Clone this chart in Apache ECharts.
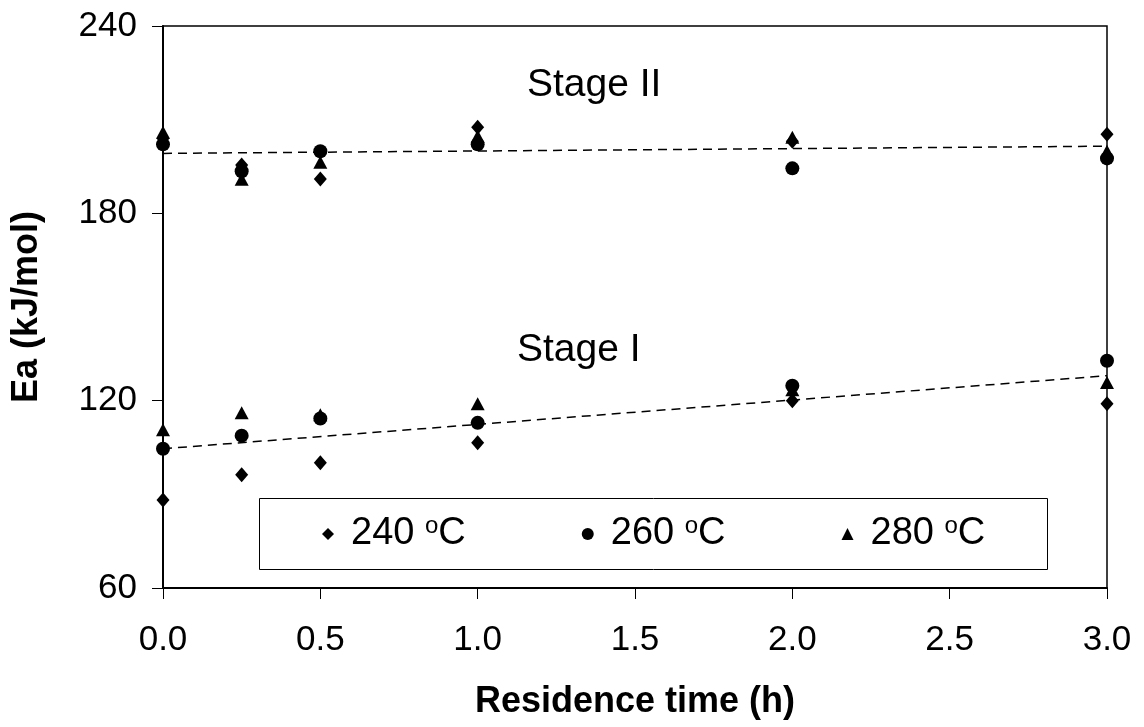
<!DOCTYPE html>
<html>
<head>
<meta charset="utf-8">
<script src="https://cdn.jsdelivr.net/npm/echarts@6/dist/echarts.min.js"></script>
<style>
html,body{margin:0;padding:0;background:#fff;}
#chart{width:1144px;height:727px;}
</style>
</head>
<body>
<div id="chart"></div>
<script>
// ---- data ----
const timesH = [0, 0.25, 0.5, 1, 2, 3];
const tempLabels = ['240', '260', '280'];
const stageI_240 = [88.2, 96.3, 100.1, 106.5, 120.0, 119.0];
const stageI_260 = [104.6, 108.8, 114.3, 112.9, 124.8, 132.8];
const stageI_280 = [110.7, 116.1, 115.5, 119.0, 123.5, 125.8];
const stageII_240 = [204.0, 195.5, 191.0, 207.6, 203.1, 205.3];
const stageII_260 = [202.1, 193.5, 199.9, 202.1, 194.4, 197.6];
const stageII_280 = [206.0, 190.9, 196.4, 204.7, 204.4, 199.9];
const trendX = [0, 3];
const trendStageI = [104.6, 128.0];
const trendStageII = [199.2, 201.5];
const yTicks = [60, 120, 180, 240];
const xTicks = [0, 0.5, 1, 1.5, 2, 2.5, 3];

const font = 'Liberation Sans, Arial, sans-serif';
const symbols = ['diamond', 'circle', 'triangle'];
const symbolSizes = [[13, 15], 14, [14, 13]];
const stageIData = [stageI_240, stageI_260, stageI_280];
const stageIIData = [stageII_240, stageII_260, stageII_280];

const pairs = (xs, ys) => xs.map((x, i) => [x, ys[i]]);

const series = [];
series.push({
  type: 'line', name: 'trendI', data: pairs(trendX, trendStageI),
  showSymbol: false, symbol: 'none', silent: true,
  lineStyle: {color: '#000', width: 1.5, type: [9, 6]}, z: 1
});
series.push({
  type: 'line', name: 'trendII', data: pairs(trendX, trendStageII),
  showSymbol: false, symbol: 'none', silent: true,
  lineStyle: {color: '#000', width: 1.5, type: [9, 6]}, z: 1
});
tempLabels.forEach((t, k) => {
  series.push({
    type: 'scatter',
    name: t,
    symbol: symbols[k],
    symbolSize: symbolSizes[k],
    itemStyle: {color: '#000', opacity: 1},
    data: pairs(timesH, stageIData[k]).concat(pairs(timesH, stageIIData[k])),
    z: 3
  });
});

const chart = echarts.init(document.getElementById('chart'), null, {renderer: 'canvas'});
chart.setOption({
  animation: false,
  backgroundColor: '#fff',
  grid: {left: 163, right: 37, top: 26, bottom: 139, show: true, borderColor: '#000', borderWidth: 1.5, backgroundColor: 'transparent'},
  xAxis: {
    type: 'value', min: xTicks[0], max: xTicks[xTicks.length - 1], interval: 0.5,
    axisLine: {lineStyle: {color: '#000', width: 2}},
    axisTick: {show: true, inside: false, length: 11, lineStyle: {color: '#000', width: 1}},
    splitLine: {show: false},
    axisLabel: {color: '#000', fontSize: 35, fontFamily: font, margin: 35, formatter: v => v.toFixed(1)},
    name: 'Residence time (h)', nameLocation: 'middle', nameGap: 96,
    nameTextStyle: {color: '#000', fontSize: 36, fontWeight: 'bold', fontFamily: font}
  },
  yAxis: {
    type: 'value', min: yTicks[0], max: yTicks[yTicks.length - 1], interval: 60,
    axisLine: {lineStyle: {color: '#000', width: 2}},
    axisTick: {show: true, inside: false, length: 11, lineStyle: {color: '#000', width: 1}},
    splitLine: {show: false},
    axisLabel: {color: '#000', fontSize: 35, fontFamily: font, margin: 26},
    name: 'Ea (kJ/mol)', nameLocation: 'middle', nameGap: 118, nameRotate: 90,
    nameTextStyle: {color: '#000', fontSize: 36, fontWeight: 'bold', fontFamily: font}
  },
  legend: {
    z: 20,
    data: tempLabels.map((t, k) => ({name: t, icon: symbols[k]})),
    left: 322, top: 514, itemWidth: 12, itemHeight: 12, itemGap: 116, padding: 0,
    textStyle: {
      color: '#000', fontSize: 38, fontFamily: font,
      rich: {
        g: {width: 12, fontSize: 38, lineHeight: 40},
        t: {fontSize: 38, fontFamily: font, color: '#000', lineHeight: 40},
        s: {fontSize: 24, fontFamily: font, color: '#000', verticalAlign: 'top', padding: [0, 0, 16, 0]}
      }
    },
    formatter: name => '{g|}{t|' + name + ' }{s|o}{t|C}',
    selectedMode: false
  },
  graphic: [
    {type: 'rect', left: 259, top: 498, shape: {width: 788, height: 71}, style: {fill: '#fff', stroke: '#000', lineWidth: 1}, z: 2},
    {type: 'text', left: 527, top: 66, style: {text: 'Stage II', fontSize: 39, fontFamily: font, fill: '#000'}, z: 5},
    {type: 'text', left: 517, top: 331, style: {text: 'Stage I', fontSize: 39, fontFamily: font, fill: '#000'}, z: 5}
  ],
  series: series
});
</script>
</body>
</html>
